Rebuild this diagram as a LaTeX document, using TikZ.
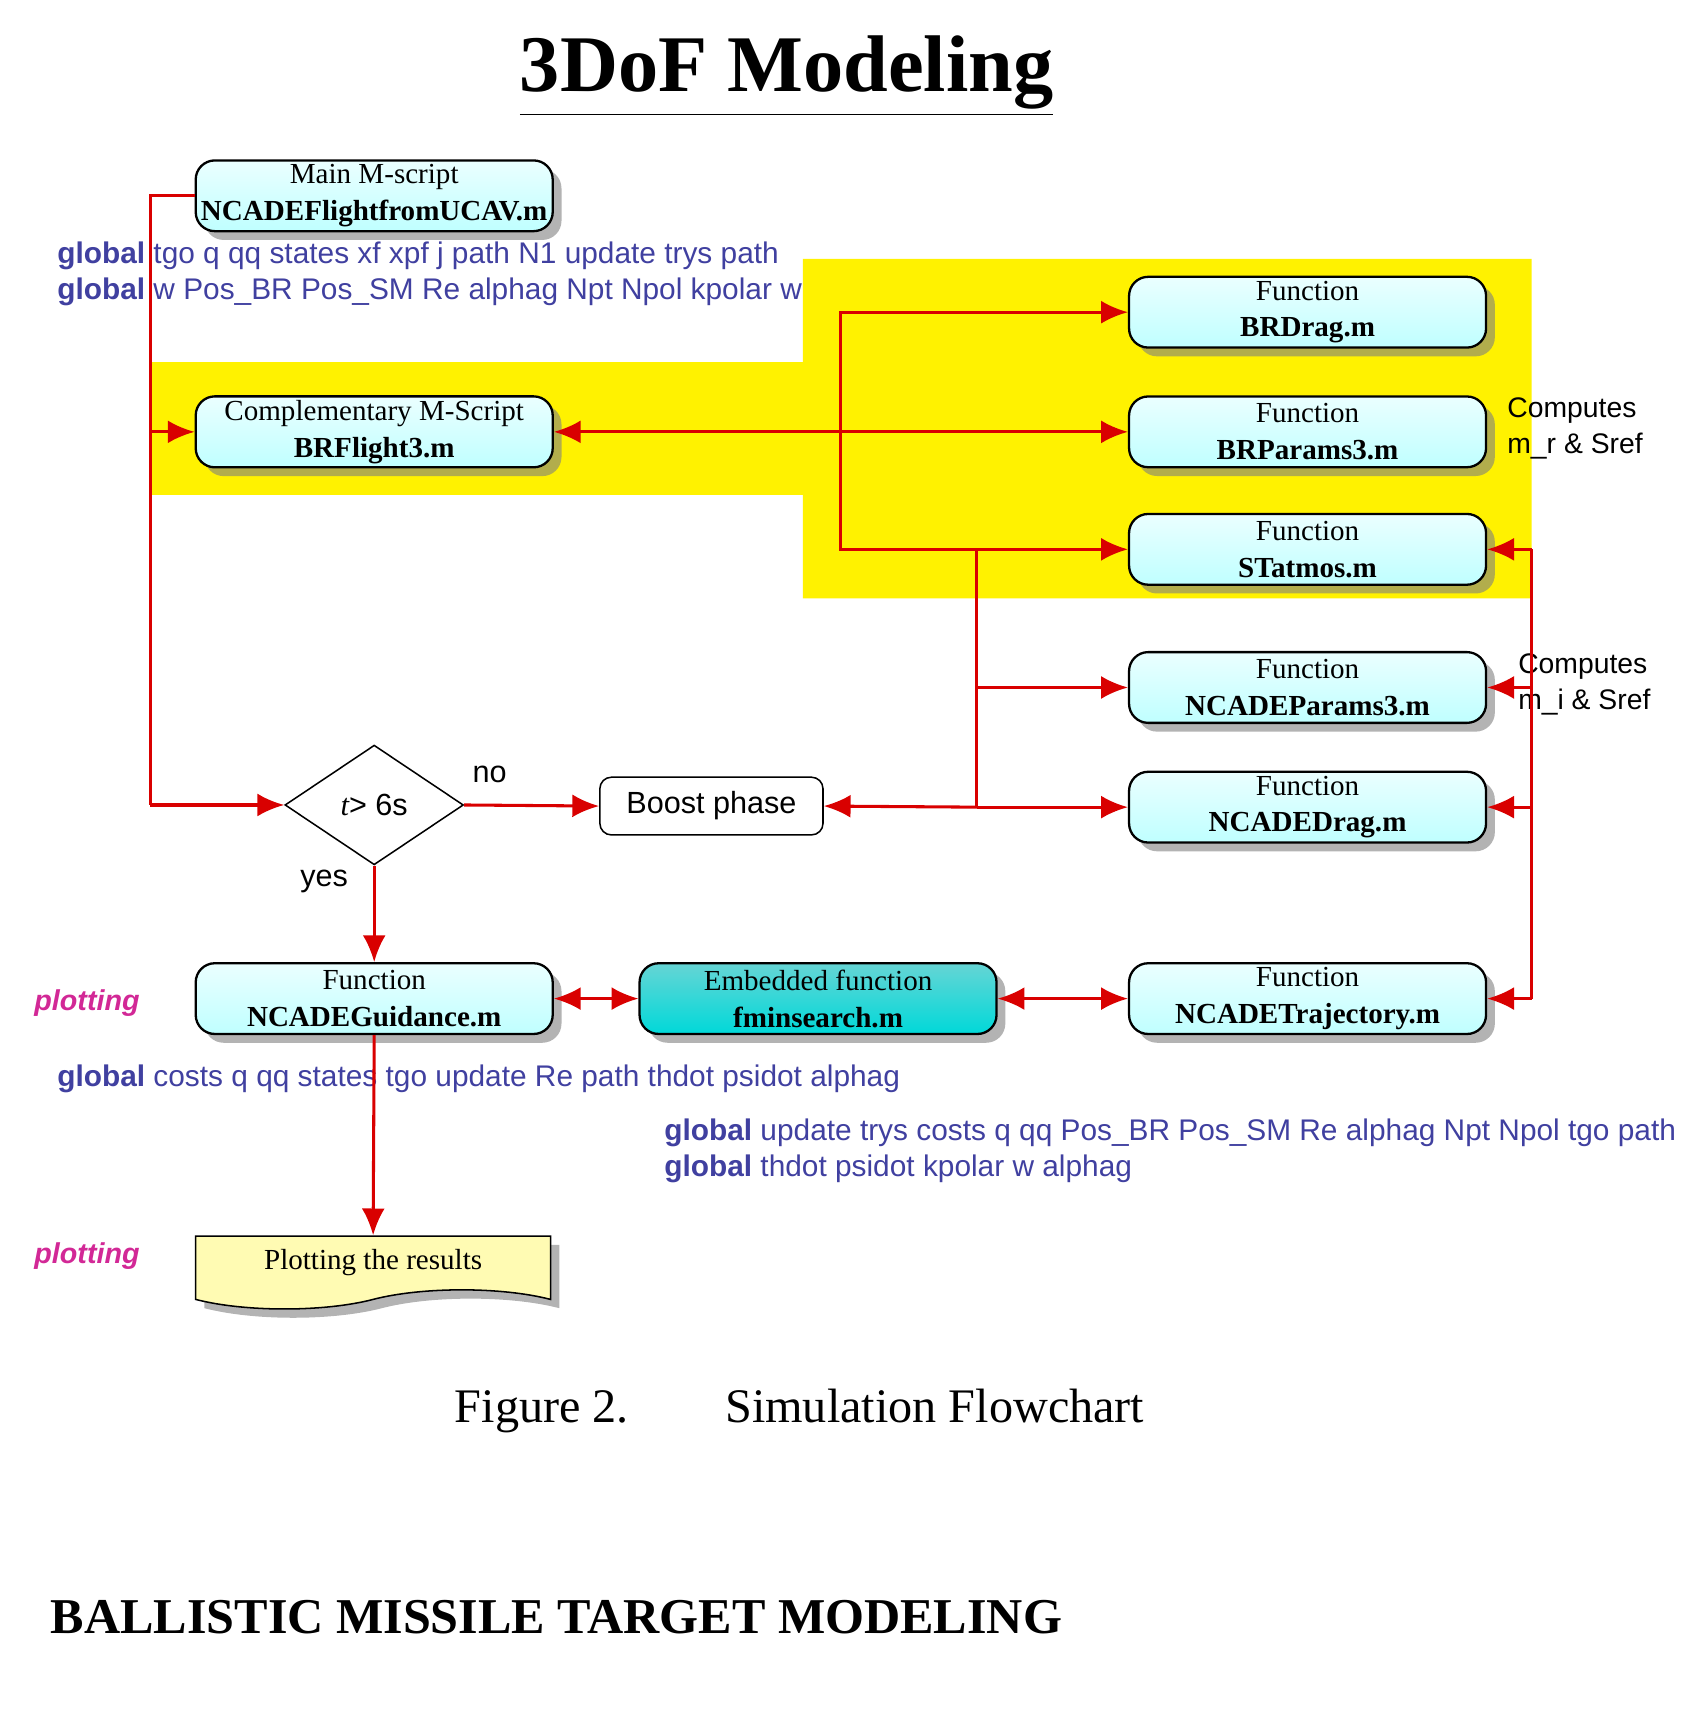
\documentclass[tikz,border=0pt]{standalone}
\usepackage{fontspec}
\setmainfont{Liberation Serif}
\setsansfont{Liberation Sans}
\usetikzlibrary{arrows.meta, positioning, shapes.geometric, shapes.symbols, shadows}
\definecolor{globblue}{RGB}{64,64,160}
\definecolor{plotpink}{RGB}{210,40,150}
\tikzset{
  fbox/.style={draw, semithick, rounded corners=5pt, minimum width=3.28cm, minimum height=0.65cm,
    top color=cyan!8, bottom color=cyan!25, drop shadow={opacity=0.6},
    align=center, font=\fontsize{7.6}{9.6}\selectfont, inner sep=1pt},
  conn/.style={red!85!black, thick, -{Latex[length=7pt,width=6pt]}},
  glob/.style={anchor=west, font=\sffamily\fontsize{7.8}{9.5}\selectfont, text=globblue, align=left, inner sep=0},
  note/.style={anchor=west, font=\sffamily\fontsize{7.4}{9.5}\selectfont, align=left, inner sep=0},
  plotlbl/.style={font=\sffamily\bfseries\itshape\fontsize{7.5}{9}\selectfont, text=plotpink}
}
\begin{document}
\begin{tikzpicture}[x=0.01cm, y=-0.01cm]
  \useasboundingbox (0,0) rectangle (1560,1583);

  % title
  \node[font=\bfseries\fontsize{21}{24}\selectfont] (title) at (723,70) {\underline{3DoF Modeling}};

  % yellow area
  \fill[yellow] (738,238) -- (1408,238) -- (1408,550) -- (738,550) -- (738,455)
    -- (138,455) -- (138,333) -- (738,333) -- cycle;

  % boxes
  \node[fbox] (main) at (344,180) {Main M-script\\\textbf{NCADEFlightfromUCAV.m}};
  \node[fbox] (brflight) at (344,397) {Complementary M-Script\\\textbf{BRFlight3.m}};
  \node[fbox] (brdrag) at (1202,287) {Function\\\textbf{BRDrag.m}};
  \node[fbox] (brparams) at (1202,397) {Function\\\textbf{BRParams3.m}};
  \node[fbox] (statmos) at (1202,505) {Function\\\textbf{STatmos.m}};
  \node[fbox] (ncparams) at (1202,632) {Function\\\textbf{NCADEParams3.m}};
  \node[fbox] (ncdrag) at (1202,742) {Function\\\textbf{NCADEDrag.m}};
  \node[fbox] (nctraj) at (1202,918) {Function\\\textbf{NCADETrajectory.m}};
  \node[fbox] (guid) at (344,918) {Function\\\textbf{NCADEGuidance.m}};
  \node[fbox, top color=cyan!45!teal!60, bottom color=cyan!70!teal] (fmin) at (752,918) {Embedded function\\\textbf{fminsearch.m}};
  \node[draw, diamond, aspect=1.5, minimum width=1.64cm, minimum height=1.1cm, inner sep=0,
    font=\sffamily\fontsize{8}{10}\selectfont] (test) at (344,740) {$\mathit{t}$> 6s};
  \node[draw, rounded corners=3pt, minimum width=2.05cm, minimum height=0.53cm,
    font=\sffamily\fontsize{8}{10}\selectfont] (boost) at (654,741) {Boost phase};
  \node[draw, tape, tape bend top=none, fill=yellow!30, minimum width=3.26cm, minimum height=0.67cm,
    drop shadow={opacity=0.6}, font=\fontsize{7.6}{10}\selectfont] (plot) at (343,1161) {Plotting the results};

  % texts
  \node[glob] (g1) at (52,252) {\textbf{global} tgo q qq states xf xpf j path N1 update trys path\\\textbf{global} w Pos\_BR Pos\_SM Re alphag Npt Npol kpolar w};
  \node[glob] (g2) at (52,992) {\textbf{global} costs q qq states tgo update Re path thdot psidot alphag};
  \node[glob] (g3) at (610,1058) {\textbf{global} update trys costs q qq Pos\_BR Pos\_SM Re alphag Npt Npol tgo path\\\textbf{global} thdot psidot kpolar w alphag};
  \node[note] (c1) at (1385,394) {Computes\\m\_r \& Sref};
  \node[note] (c2) at (1395,629) {Computes\\m\_i \& Sref};
  \node[plotlbl] (p1) at (80,922) {plotting};
  \node[plotlbl] (p2) at (80,1155) {plotting};
  \node[font=\sffamily\fontsize{8}{10}\selectfont] (no) at (450,712) {no};
  \node[font=\sffamily\fontsize{8}{10}\selectfont] (yes) at (298,810) {yes};

  % connectors
  \coordinate (l1) at (138,180);
  \coordinate (l2) at (138,397);
  \coordinate (l3) at (138,740);
  \draw[red!85!black, thick] (main.west) -- (l1) -- (l3);
  \draw[conn] (l2) -- (brflight.west);
  \draw[conn] (l3) -- (test.west);
  \draw[conn, {Latex[length=7pt,width=6pt]}-{Latex[length=7pt,width=6pt]}] (brflight.east) -- (brparams.west);
  \coordinate (v1) at (773,287);
  \coordinate (v2) at (773,505);
  \draw[conn] (v1 |- brparams.west) -- (v1) -- (brdrag.west);
  \draw[conn] (v1 |- brparams.west) -- (v2) -- (statmos.west);
  \coordinate (m1) at (898,505);
  \coordinate (m2) at (898,742);
  \draw[red!85!black, thick] (m1) -- (m2);
  \draw[conn] (m1 |- ncparams.west) -- (ncparams.west);
  \draw[conn] (m2) -- (ncdrag.west);
  \draw[conn] (m2) -- (boost.east);
  \coordinate (r1) at (1408,505);
  \coordinate (r2) at (1408,918);
  \draw[red!85!black, thick] (r1) -- (r2);
  \draw[conn] (r1) -- (statmos.east);
  \draw[conn] (r1 |- ncparams.east) -- (ncparams.east);
  \draw[conn] (r1 |- ncdrag.east) -- (ncdrag.east);
  \draw[conn] (r2) -- (nctraj.east);
  \draw[conn] (test.east) -- (boost.west);
  \draw[conn] (test.south) -- (guid.north);
  \draw[conn, {Latex[length=7pt,width=6pt]}-{Latex[length=7pt,width=6pt]}] (guid.east) -- (fmin.west);
  \draw[conn, {Latex[length=7pt,width=6pt]}-{Latex[length=7pt,width=6pt]}] (fmin.east) -- (nctraj.west);
  \draw[conn] (guid.south) -- (plot.north);

  % caption
  \node[font=\fontsize{12.6}{15}\selectfont] (cap) at (735,1297) {Figure 2.\hspace{2em}Simulation Flowchart};
  \node[anchor=west, inner sep=0, font=\bfseries\fontsize{13.1}{16}\selectfont] (sec) at (46,1487) {BALLISTIC MISSILE TARGET MODELING};
\end{tikzpicture}
\end{document}
